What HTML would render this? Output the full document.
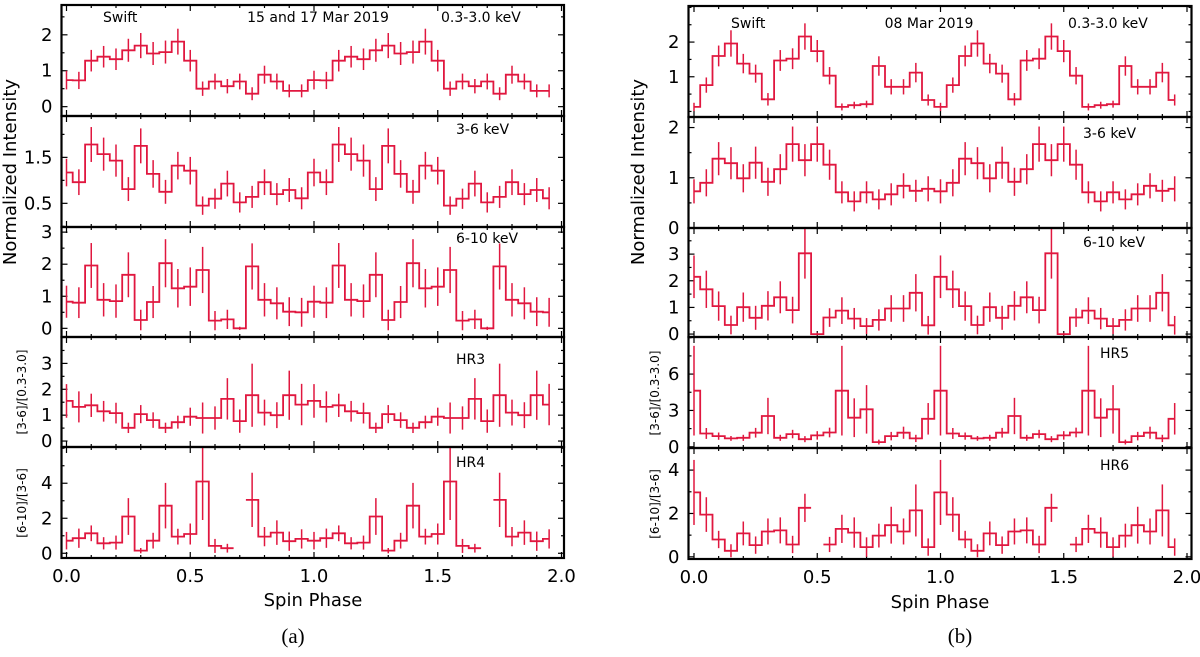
<!DOCTYPE html>
<html><head><meta charset="utf-8">
<style>
html,body{margin:0;padding:0;background:#fff;}
svg{display:block;}
text{font-family:"DejaVu Sans","Liberation Sans",sans-serif;fill:#000;}
</style></head>
<body>
<svg id="fig" width="1200" height="657" viewBox="0 0 1200 657" xmlns="http://www.w3.org/2000/svg"></svg>
<script>
// ---- data: 20 phase bins (0.00..0.95), repeated for two cycles ----
const phaseBins = [0,0.05,0.1,0.15,0.2,0.25,0.3,0.35,0.4,0.45,0.5,0.55,0.6,0.65,0.7,0.75,0.8,0.85,0.9,0.95];
const xTickLabels = ["0.0","0.5","1.0","1.5","2.0"];

const aSoft = [0.74,0.73,1.28,1.39,1.32,1.57,1.70,1.48,1.52,1.81,1.28,0.50,0.70,0.57,0.70,0.36,0.89,0.70,0.44,0.44];
const aSoftErr = [0.26,0.24,0.30,0.30,0.30,0.32,0.35,0.32,0.32,0.36,0.30,0.20,0.22,0.20,0.22,0.18,0.25,0.22,0.18,0.18];
const aMid = [1.17,0.96,1.78,1.57,1.43,0.81,1.75,1.14,0.75,1.32,1.21,0.45,0.60,0.93,0.52,0.64,0.96,0.70,0.79,0.61];
const aMidErr = [0.30,0.28,0.38,0.36,0.35,0.26,0.38,0.30,0.26,0.30,0.30,0.20,0.22,0.28,0.22,0.24,0.28,0.24,0.26,0.24];
const aHard = [0.83,0.80,1.96,0.89,0.85,1.67,0.26,0.82,2.03,1.25,1.30,1.82,0.24,0.28,0.00,1.93,0.89,0.78,0.52,0.50];
const aHardErr = [0.50,0.48,0.70,0.52,0.52,0.70,0.32,0.50,0.75,0.60,0.60,0.72,0.30,0.30,0.05,0.72,0.52,0.50,0.45,0.45];
const aHR3 = [1.55,1.32,1.38,1.15,1.08,0.51,1.04,0.81,0.51,0.73,0.94,0.89,0.89,1.63,0.77,1.77,1.10,1.00,1.77,1.41];
const aHR3Err = [0.65,0.60,0.45,0.40,0.40,0.20,0.35,0.30,0.20,0.25,0.35,0.60,0.45,0.80,0.45,1.22,0.50,0.50,0.95,0.80];
const aHR4 = [0.72,0.86,1.14,0.57,0.61,2.10,0.15,0.72,2.72,0.95,1.10,4.10,0.42,0.29,null,3.05,0.95,1.18,0.69,0.82];
const aHR4Err = [0.50,0.55,0.45,0.35,0.40,1.05,0.15,0.45,1.30,0.45,0.60,2.20,0.40,0.25,0,1.55,0.55,0.70,0.55,0.55];

const bSoft = [0.13,0.76,1.60,1.96,1.38,1.09,0.35,1.47,1.52,2.16,1.74,1.03,0.13,0.18,0.21,1.31,0.71,0.71,1.12,0.33];
const bSoftErr = [0.12,0.22,0.30,0.38,0.28,0.26,0.18,0.30,0.30,0.38,0.32,0.25,0.10,0.10,0.10,0.28,0.22,0.22,0.28,0.16];
const bMid = [0.73,0.90,1.38,1.29,0.99,1.30,0.92,1.17,1.67,1.35,1.67,1.26,0.71,0.53,0.71,0.57,0.67,0.84,0.74,0.78];
const bMidErr = [0.24,0.27,0.33,0.32,0.28,0.32,0.28,0.30,0.35,0.32,0.35,0.30,0.22,0.20,0.22,0.20,0.22,0.25,0.22,0.25];
const bHard = [2.15,1.68,1.05,0.34,1.01,0.61,1.06,1.38,0.90,3.03,0.00,0.62,0.88,0.58,0.30,0.53,0.96,0.96,1.55,0.33];
const bHardErr = [0.80,0.70,0.55,0.35,0.55,0.45,0.55,0.60,0.50,0.95,0.05,0.35,0.50,0.40,0.30,0.40,0.50,0.50,0.70,0.35];
const bHR5 = [4.63,1.10,0.88,0.69,0.74,1.16,2.54,0.74,1.05,0.63,0.94,1.18,4.63,2.40,3.09,0.39,0.88,1.16,0.69,2.31];
const bHR5Err = [3.70,0.45,0.30,0.20,0.25,0.40,1.50,0.25,0.35,0.25,0.35,0.40,3.70,1.60,2.00,0.20,0.35,0.50,0.30,1.30];
const bHR6 = [2.97,1.95,0.80,0.28,1.08,0.54,1.17,1.22,0.57,2.26,null,0.57,1.29,1.12,0.45,0.98,1.46,1.17,2.14,0.45];
const bHR6Err = [1.50,0.80,0.40,0.30,0.55,0.40,0.60,0.60,0.40,0.65,0,0.35,0.65,0.70,0.45,0.55,0.85,0.60,1.20,0.40];

const NS = "http://www.w3.org/2000/svg";
const svg = document.getElementById('fig');
const RED = "#e0173f";

function mk(tag, attrs, parent, txt){
  const e = document.createElementNS(NS, tag);
  for (const k in attrs) e.setAttribute(k, attrs[k]);
  if (txt !== undefined) e.textContent = txt;
  (parent || svg).appendChild(e);
  return e;
}

function drawPanel(fig, p, idx, last){
  const g = mk('g', {});
  
  
  const xs = v => fig.x0 + (fig.x2 - fig.x0) * v / 2;
  const ys = v => p.y1 - (v - p.lo) / (p.hi - p.lo) * (p.y1 - p.y0);
  const L = fig.left, R = fig.right, T = p.y0, B = p.y1;
  // x ticks (bottom & top)
  for (let k = 0; k <= 20; k++) {
    const v = k * 0.1, x = xs(v), major = (k % 5 === 0), len = major ? 6 : 3;
    mk('line', {x1:x, x2:x, y1:B, y2:B-len, stroke:'#000','stroke-width':1.2}, g);
    mk('line', {x1:x, x2:x, y1:T, y2:T+len, stroke:'#000','stroke-width':1.2}, g);
  }
  // y ticks
  for (let v = Math.ceil(p.lo / p.minor) * p.minor; v <= p.hi + 1e-9; v += p.minor) {
    const y = ys(v);
    const isMajor = p.ticks.some(t => Math.abs(t - v) < 1e-6);
    const len = isMajor ? 6 : 3;
    mk('line', {x1:L, x2:L+len, y1:y, y2:y, stroke:'#000','stroke-width':1.2}, g);
    mk('line', {x1:R, x2:R-len, y1:y, y2:y, stroke:'#000','stroke-width':1.2}, g);
  }
  p.ticks.forEach((t, i) => {
    const lab = mk('text', {x:L-9, y:ys(t)+6, 'text-anchor':'end','font-size':18}, g, p.tickLabels[i]);
    
    
  });
  // clip
  const cid = fig.id + 'clip' + idx;
  const cp = mk('clipPath', {id:cid}, g);
  mk('rect', {x:L, y:T, width:R-L, height:B-T}, cp);
  const dg = mk('g', {'clip-path':'url(#'+cid+')'}, g);
  // full 2-cycle series
  const xsData = [], vals = [], errs = [];
  for (let c = 0; c < 2; c++) phaseBins.forEach((ph, i) => { xsData.push(ph + c); vals.push(p.vals[i]); errs.push(p.errs[i]); });
  // steps-mid path
  let d = '';
  let prev = null;
  for (let i = 0; i < xsData.length; i++) {
    const v = vals[i];
    if (v === null) { prev = null; continue; }
    const xl = (i === 0) ? xs(xsData[i]) : xs(xsData[i] - 0.025);
    const xr = (i === xsData.length - 1) ? xs(xsData[i]) : xs(xsData[i] + 0.025);
    if (prev === null) d += 'M' + xl.toFixed(1) + ',' + ys(v).toFixed(1);
    else d += 'L' + xl.toFixed(1) + ',' + ys(v).toFixed(1);
    d += 'L' + xr.toFixed(1) + ',' + ys(v).toFixed(1);
    prev = v;
  }
  const path = mk('path', {d:d, fill:'none', stroke:RED, 'stroke-width':1.8}, dg);
  
  
  for (let i = 0; i < xsData.length; i++) {
    if (vals[i] === null) continue;
    const x = xs(xsData[i]);
    const eb = mk('line', {x1:x, x2:x, y1:ys(vals[i]-errs[i]), y2:ys(vals[i]+errs[i]), stroke:RED, 'stroke-width':1.5}, dg);
    
    
  }
  // frame
  mk('rect', {x:L, y:T, width:R-L, height:B-T, fill:'none', stroke:'#000', 'stroke-width':2.2}, g);
  if (p.label) {
    const t = mk('text', {x:p.label[1], y:p.label[2], 'font-size':14}, g, p.label[0]);
    
    
  }
  if (last) {
    xTickLabels.forEach((s, i) => {
      const t = mk('text', {x:xs(i*0.5), y:B+24, 'text-anchor':'middle','font-size':18}, g, s);
      
      
    });
  }
}

const figA = {id:'a', left:61.5, right:564, x0:66.5, x2:561.5, panels:[
  {name:'soft', y0:5, y1:116, lo:-0.26, hi:2.83, ticks:[0,1,2], tickLabels:['0','1','2'], minor:0.5, vals:aSoft, errs:aSoftErr, label:['0.3-3.0 keV',441,22]},
  {name:'mid', y0:116, y1:227, lo:-0.015, hi:2.4, ticks:[0.5,1.5], tickLabels:['0.5','1.5'], minor:0.5, vals:aMid, errs:aMidErr, label:['3-6 keV',456,134]},
  {name:'hard', y0:227, y1:337, lo:-0.27, hi:3.16, ticks:[0,1,2,3], tickLabels:['0','1','2','3'], minor:0.5, vals:aHard, errs:aHardErr, label:['6-10 keV',456,243]},
  {name:'hr3', y0:337, y1:447, lo:-0.23, hi:4.02, ticks:[0,1,2,3], tickLabels:['0','1','2','3'], minor:0.5, vals:aHR3, errs:aHR3Err, label:['HR3',456,364]},
  {name:'hr4', y0:447, y1:558, lo:-0.27, hi:6.07, ticks:[0,2,4], tickLabels:['0','2','4'], minor:1, vals:aHR4, errs:aHR4Err, label:['HR4',456,467]}
]};
const figB = {id:'b', left:688.5, right:1191.5, x0:694, x2:1187, panels:[
  {name:'soft', y0:6, y1:117, lo:-0.16, hi:3.04, ticks:[1,2], tickLabels:['1','2'], minor:0.5, vals:bSoft, errs:bSoftErr, label:['0.3-3.0 keV',1068,28]},
  {name:'mid', y0:117, y1:228, lo:0, hi:2.21, ticks:[0,1,2], tickLabels:['0','1','2'], minor:0.5, vals:bMid, errs:bMidErr, label:['3-6 keV',1083,138]},
  {name:'hard', y0:228, y1:337, lo:-0.11, hi:3.98, ticks:[0,1,2,3], tickLabels:['0','1','2','3'], minor:0.5, vals:bHard, errs:bHardErr, label:['6-10 keV',1083,247]},
  {name:'hr5', y0:337, y1:448, lo:-0.1, hi:9.06, ticks:[0,3,6], tickLabels:['0','3','6'], minor:1.5, vals:bHR5, errs:bHR5Err, label:['HR5',1100,358]},
  {name:'hr6', y0:448, y1:559, lo:-0.1, hi:5.02, ticks:[0,2,4], tickLabels:['0','2','4'], minor:1, vals:bHR6, errs:bHR6Err, label:['HR6',1100,470]}
]};

[figA, figB].forEach(f => f.panels.forEach((p, i) => drawPanel(f, p, i, i === f.panels.length - 1)));

function txt(s, attrs, name){
  const t = mk('text', attrs, svg, s);
  
  
  return t;
}
txt('Swift', {x:103, y:22, 'font-size':14}, 'instrument-label-a');
txt('15 and 17 Mar 2019', {x:318, y:22, 'font-size':14, 'text-anchor':'middle'}, 'date-label-a');
txt('Swift', {x:731, y:28, 'font-size':14}, 'instrument-label-b');
txt('08 Mar 2019', {x:929, y:28, 'font-size':14, 'text-anchor':'middle'}, 'date-label-b');
txt('Normalized Intensity', {x:0, y:0, 'font-size':18, 'text-anchor':'middle', transform:'translate(16,172) rotate(-90)'}, 'y-axis-title-a');
txt('Normalized Intensity', {x:0, y:0, 'font-size':18, 'text-anchor':'middle', transform:'translate(644,172) rotate(-90)'}, 'y-axis-title-b');
txt('[3-6]/[0.3-3.0]', {x:0, y:0, 'font-size':12, 'text-anchor':'middle', transform:'translate(26,392) rotate(-90)'}, 'hr3-axis-title');
txt('[6-10]/[3-6]', {x:0, y:0, 'font-size':12, 'text-anchor':'middle', transform:'translate(26,503) rotate(-90)'}, 'hr4-axis-title');
txt('[3-6]/[0.3-3.0]', {x:0, y:0, 'font-size':12, 'text-anchor':'middle', transform:'translate(659,393) rotate(-90)'}, 'hr5-axis-title');
txt('[6-10]/[3-6]', {x:0, y:0, 'font-size':12, 'text-anchor':'middle', transform:'translate(659,504) rotate(-90)'}, 'hr6-axis-title');
txt('Spin Phase', {x:313, y:606, 'font-size':18, 'text-anchor':'middle'}, 'x-axis-title-a');
txt('Spin Phase', {x:940, y:608, 'font-size':18, 'text-anchor':'middle'}, 'x-axis-title-b');
txt('(a)', {x:293, y:643, 'font-size':21, 'text-anchor':'middle', style:'font-family:"Liberation Serif",serif'}, 'caption-a');
txt('(b)', {x:960, y:643, 'font-size':21, 'text-anchor':'middle', style:'font-family:"Liberation Serif",serif'}, 'caption-b');
</script>
</body></html>
